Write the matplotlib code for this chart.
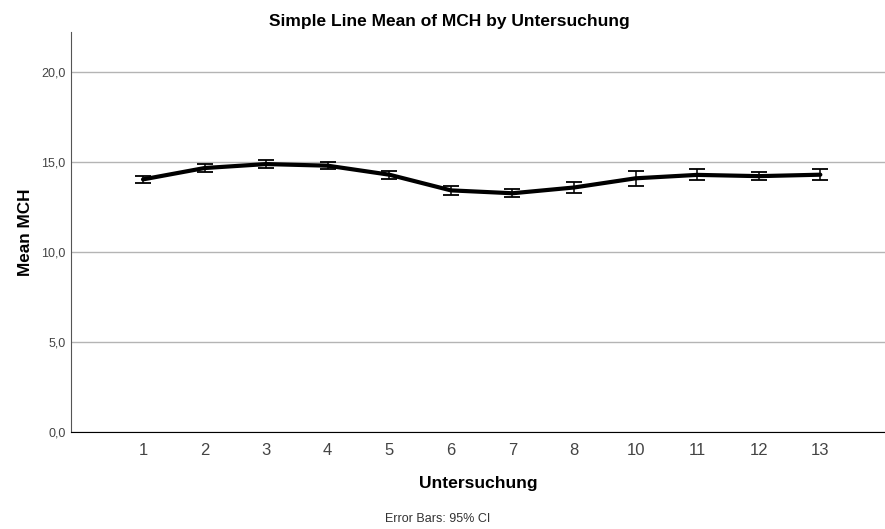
import matplotlib
matplotlib.use("Agg")
import matplotlib.pyplot as plt
import numpy as np

plt.rcParams['font.family'] = ['Liberation Sans', 'DejaVu Sans']

categories = ["1", "2", "3", "4", "5", "6", "7", "8", "10", "11", "12", "13"]
means = [14.02, 14.65, 14.87, 14.78, 14.28, 13.41, 13.25, 13.57, 14.08, 14.27, 14.20, 14.28]
ci_low = [13.82, 14.44, 14.63, 14.59, 14.06, 13.15, 13.02, 13.24, 13.67, 13.96, 13.98, 13.98]
ci_high = [14.20, 14.85, 15.11, 14.96, 14.50, 13.67, 13.48, 13.89, 14.50, 14.57, 14.43, 14.57]
y_ticks = [0, 5, 10, 15, 20]
y_tick_labels = ["0,0", "5,0", "10,0", "15,0", "20,0"]

fig = plt.figure(figsize=(8.85, 5.29), dpi=100)
ax = fig.add_axes([0.0802, 0.1834, 0.9198, 0.7561])

x = np.arange(len(categories))
m = np.array(means)
lo = m - np.array(ci_low)
hi = np.array(ci_high) - m

ax.yaxis.grid(True, color='#b4b4b4', linewidth=1.0)
ax.set_axisbelow(True)
ax.plot(x, m, color='black', linewidth=3.0, solid_joinstyle='round', solid_capstyle='round', zorder=3)
ax.errorbar(x, m, yerr=[lo, hi], fmt='none', ecolor='black', elinewidth=1.1,
            capsize=6, capthick=1.3, zorder=4)

ax.set_xlim(-1.17, 12.05)
ax.set_ylim(0, 22.2)
ax.set_xticks(x)
ax.set_xticklabels(categories, fontsize=12, color='#444444')
ax.set_yticks(y_ticks)
ax.set_yticklabels(y_tick_labels, fontsize=9, color='#444444')
ax.tick_params(axis='both', length=0)
ax.tick_params(axis='x', pad=8)
ax.tick_params(axis='y', pad=4)

for s in ['top', 'right']:
    ax.spines[s].set_visible(False)
ax.spines['left'].set_color('#555555')
ax.spines['bottom'].set_color('black')

ax.set_ylabel("Mean MCH", fontsize=12.3, fontweight='bold', labelpad=6)
ax.set_xlabel("Untersuchung", fontsize=12.6, fontweight='bold', labelpad=13)
fig.text(0.508, 0.959, "Simple Line Mean of MCH by Untersuchung", ha='center', va='center',
         fontsize=12.5, fontweight='bold')
fig.text(0.495, 0.019, "Error Bars: 95% CI", ha='center', va='center', fontsize=9, color='#333333')

fig.savefig("out.png", dpi=100)
